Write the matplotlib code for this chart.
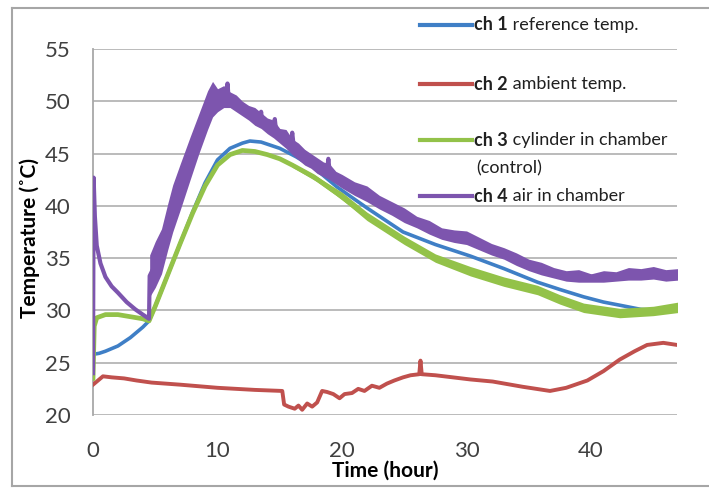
import matplotlib
matplotlib.use("Agg")
import matplotlib.pyplot as plt
from matplotlib.lines import Line2D

plt.rcParams['font.family'] = ['Lato', 'DejaVu Sans']

# ---------------- data ----------------
ch1_t = [0, 0.5, 1.0, 2.0, 3.0, 4.0, 4.5, 5.0, 6.0, 7.0, 8.0, 9.0, 10.0, 11.0, 12.0, 12.6,
         13.5, 15.0, 16.3, 17.7, 19.6, 22.0, 24.9, 27.5, 30.3, 33.0, 35.7, 37.5, 39.4,
         41.0, 42.3, 44.0, 45.5, 47.0]
ch1_T = [25.8, 25.9, 26.1, 26.6, 27.4, 28.4, 29.0, 30.4, 33.4, 36.4, 39.4, 42.2, 44.4, 45.5,
         46.0, 46.2, 46.1, 45.5, 44.7, 43.7, 41.8, 39.8, 37.5, 36.3, 35.2, 34.0, 32.7, 32.0,
         31.3, 30.8, 30.5, 30.1, 30.0, 30.1]

ch2_t = [0, 0.3, 0.8, 1.5, 2.5, 3.5, 4.7, 7.0, 10.0, 13.0, 15.2, 15.35, 15.7, 16.2, 16.5,
         16.8, 17.2, 17.6, 18.0, 18.4, 18.8, 19.3, 19.8, 20.2, 20.8, 21.3, 21.8, 22.4, 23.0,
         23.6, 24.2, 24.9, 25.5, 26.2, 26.3, 26.4, 27.5, 30.3, 32.1, 34.5, 36.7, 38.0, 39.7,
         41.0, 42.3, 43.5, 44.5, 45.8, 46.9]
ch2_T = [22.9, 23.2, 23.7, 23.6, 23.5, 23.3, 23.1, 22.9, 22.6, 22.4, 22.3, 21.0, 20.8, 20.6,
         20.9, 20.5, 21.1, 20.8, 21.2, 22.3, 22.2, 22.0, 21.6, 22.0, 22.1, 22.5, 22.3, 22.8,
         22.6, 23.0, 23.3, 23.6, 23.8, 23.9, 25.2, 23.9, 23.8, 23.4, 23.2, 22.7, 22.3, 22.6,
         23.3, 24.2, 25.3, 26.1, 26.7, 26.9, 26.7]

ch3_t = [0, 0.1, 0.3, 1.0, 2.0, 3.0, 4.0, 4.5, 5.0, 6.0, 7.0, 8.0, 9.0, 10.0, 11.0, 12.0,
         13.0, 14.0, 15.0, 16.0, 17.7, 19.6, 22.0, 24.9, 27.5, 30.3, 33.0, 35.7, 37.5, 39.4,
         41.0, 42.3, 44.0, 45.5, 47.0]
ch3_T = [23.5, 28.5, 29.3, 29.6, 29.6, 29.4, 29.2, 29.0, 30.4, 33.4, 36.4, 39.3, 41.9, 43.9,
         44.9, 45.3, 45.2, 44.9, 44.5, 43.9, 42.8, 41.2, 39.0, 36.7, 35.0, 33.7, 32.8, 31.9,
         31.0, 30.2, 29.8, 29.7, 29.8, 30.0, 30.3]
# noise envelope of ch 3 (later part)
ch3_band_t = [16.0, 18.0, 20.0, 22.0, 25.0, 27.5, 30.3, 33.0, 35.7, 37.5, 39.4, 42.3, 45.0, 47.0]
ch3_band_lo = [43.7, 42.3, 40.6, 38.6, 36.3, 34.6, 33.3, 32.3, 31.5, 30.6, 29.8, 29.3, 29.5, 29.8]
ch3_band_hi = [44.1, 42.8, 41.3, 39.4, 37.1, 35.4, 34.2, 33.2, 32.4, 31.5, 30.7, 30.2, 30.4, 30.8]

ch4_t = [0, 0.05, 0.15, 0.3, 0.6, 1.0, 1.5, 2.0, 2.7, 3.4, 4.0, 4.5, 4.55, 5.5, 6.4, 7.8,
         9.2, 9.6, 10.2, 10.7, 10.8, 10.9, 12.0, 13.4, 13.5, 13.6, 14.5, 14.6, 14.7, 15.9,
         16.0, 16.1, 18.8, 18.9, 19.0, 22.0, 25.0, 28.0, 30.3, 33.0, 36.0, 38.0, 41.0, 44.0,
         47.0]
ch4_T = [24.0, 42.7, 39.0, 36.2, 34.5, 33.2, 32.3, 31.7, 30.8, 30.1, 29.6, 29.2, 33.3, 35.6,
         39.8, 44.5, 49.2, 50.6, 50.2, 50.3, 51.7, 50.2, 49.2, 48.0, 49.0, 47.9, 47.3, 48.3,
         47.2, 46.0, 47.0, 45.9, 43.4, 44.5, 43.3, 41.1, 39.0, 37.3, 36.9, 35.4, 34.0, 33.3,
         33.2, 33.4, 33.4]
# noise envelope of ch 4
ch4_band_t = [4.55, 5.0, 5.5, 6.0, 6.4, 7.0, 7.8, 8.5, 9.2, 9.6, 10.0, 10.5, 11.0, 11.5,
              12.0, 12.5, 13.0, 13.5, 14.0, 14.5, 15.0, 15.5, 16.0, 16.5, 17.0, 17.5, 18.0,
              18.5, 19.0, 19.5, 20.0, 21.0, 22.0, 23.0, 24.0, 25.0, 26.0, 27.0, 28.0, 29.0,
              30.0, 31.0, 32.0, 33.0, 34.0, 35.0, 36.0, 37.0, 38.0, 39.0, 40.0, 41.0, 42.0,
              43.0, 44.0, 45.0, 46.0, 47.0]
ch4_band_lo = [31.3, 32.2, 33.5, 35.8, 37.5, 39.6, 42.5, 45.0, 47.3, 48.5, 49.0, 49.4, 49.4,
               49.0, 48.6, 48.2, 47.7, 47.4, 46.9, 46.5, 46.0, 45.5, 44.9, 44.4, 43.9, 43.6,
               43.1, 42.8, 42.5, 42.1, 41.7, 41.0, 40.4, 39.7, 39.1, 38.4, 37.9, 37.3, 36.8,
               36.5, 36.3, 35.8, 35.3, 34.9, 34.3, 33.8, 33.4, 33.1, 32.8, 32.7, 32.7, 32.7,
               32.8, 32.9, 32.9, 33.0, 32.8, 32.9]
ch4_band_hi = [35.3, 36.6, 37.8, 40.2, 42.0, 44.0, 46.6, 48.8, 51.0, 51.9, 51.2, 51.5, 50.9,
               50.6, 50.0, 49.6, 49.4, 48.9, 48.4, 48.2, 47.4, 47.3, 46.4, 46.0, 45.4, 45.0,
               44.6, 44.2, 44.0, 43.3, 43.0, 42.3, 41.9, 41.0, 40.4, 39.8, 39.0, 38.6, 37.9,
               37.7, 37.6, 37.0, 36.4, 36.0, 35.5, 34.9, 34.6, 34.1, 33.8, 33.9, 33.5, 33.8,
               33.7, 34.1, 34.0, 34.2, 33.9, 34.0]

labels = ["ch 1 reference temp.", "ch 2 ambient temp.",
          "ch 3 cylinder in chamber\n(control)", "ch 4 air in chamber"]
x_ticks = [0, 10, 20, 30, 40]
y_ticks = [20, 25, 30, 35, 40, 45, 50, 55]

colors = ["#3F7FC6", "#C0504D", "#93C249", "#7D55AE"]
widths = [2.6, 2.8, 3.4, 3.0]

# ---------------- figure ----------------
W, H = 709, 488
fig = plt.figure(figsize=(W / 100, H / 100), dpi=100)
ax = fig.add_axes([93 / W, 1 - 415 / H, (677 - 93) / W, (415 - 49) / H])

for yt in y_ticks:
    ax.axhline(yt, color="#b5b5b5", lw=1.3, zorder=0)

series = [(ch1_t, ch1_T), (ch2_t, ch2_T), (ch3_t, ch3_T), (ch4_t, ch4_T)]
for i, ((t, T), c, lw) in enumerate(zip(series, colors, widths)):
    ax.plot(t, T, color=c, lw=lw, solid_joinstyle="round", zorder=2 + i)
ax.fill_between(ch3_band_t, ch3_band_lo, ch3_band_hi, color=colors[2], lw=0, zorder=4)
ax.fill_between(ch4_band_t, ch4_band_lo, ch4_band_hi, color=colors[3], lw=0, zorder=5)

ax.set_xlim(0, 46.9)
ax.set_ylim(20, 55)
ax.set_xticks(x_ticks)
ax.set_yticks(y_ticks)
ax.tick_params(length=0, labelsize=16, colors="#404040", labelcolor="#404040")
ax.tick_params(axis="y", pad=16)
ax.tick_params(axis="x", pad=19)
for s in ["top", "right", "bottom"]:
    ax.spines[s].set_visible(False)
ax.spines["left"].set_color("#a8a8a8")
ax.spines["left"].set_linewidth(1.3)
ax.patch.set_alpha(0)

fig.text(385 / W, 1 - 471 / H, "Time (hour)", fontsize=15, fontweight="bold",
         ha="center", va="center", color="#000000")
fig.text(30 / W, 1 - 238 / H, "Temperature (˚C)", fontsize=15, fontweight="bold",
         rotation=90, ha="center", va="center", color="#000000")

# legend (drawn by hand, Excel style)
leg_y = [25, 84, 140, 196]
renderer = fig.canvas.get_renderer()
for lab, c, yy in zip(labels, colors, leg_y):
    fig.add_artist(Line2D([420 / W, 472 / W], [1 - yy / H, 1 - yy / H], color=c, lw=3,
                          transform=fig.transFigure))
    head, rest = lab[:4], lab[4:]
    t1 = fig.text(474 / W, 1 - yy / H, head, fontsize=13, fontweight="bold",
                  ha="left", va="center", color="#202020")
    bb = t1.get_window_extent(renderer=renderer)
    lines = rest.split("\n")
    fig.text(bb.x1 / W, 1 - yy / H, lines[0], fontsize=13, ha="left",
             va="center", color="#202020")
    if len(lines) > 1:
        fig.text(476 / W, 1 - (yy + 28) / H, lines[1].strip(), fontsize=13,
                 ha="left", va="center", color="#202020")

# outer chart border
bc = "#a6a6a6"
fig.add_artist(Line2D([12 / W, 12 / W], [1 - 8 / H, 1 - 486 / H], color=bc, lw=1.5,
                      transform=fig.transFigure))
fig.add_artist(Line2D([12 / W, 1.0], [1 - 8 / H, 1 - 8 / H], color=bc, lw=1.5,
                      transform=fig.transFigure))
fig.add_artist(Line2D([12 / W, 1.0], [1 - 486 / H, 1 - 486 / H], color=bc, lw=1.5,
                      transform=fig.transFigure))

fig.savefig("out.png", dpi=100)
